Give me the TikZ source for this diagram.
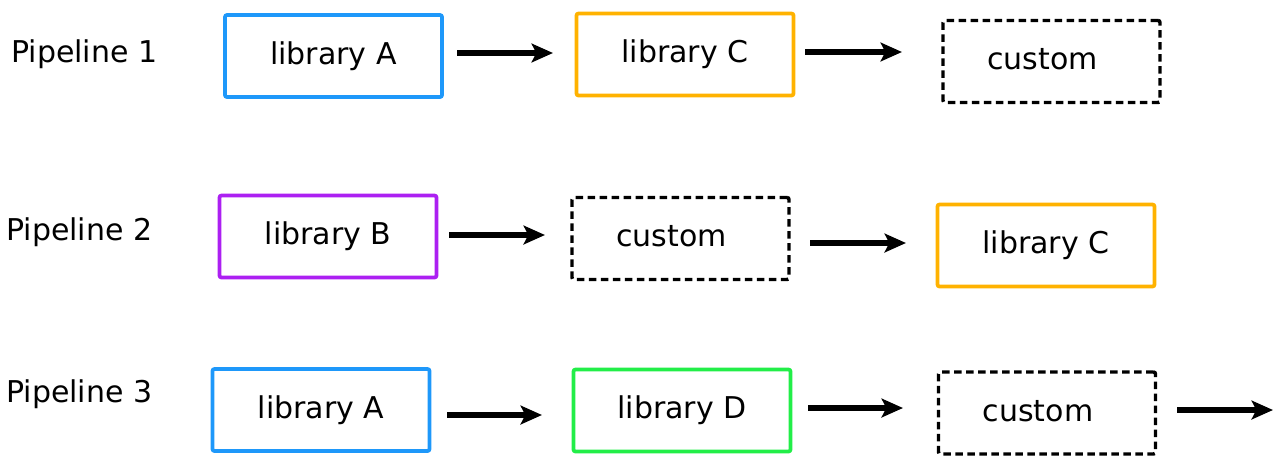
\documentclass[tikz,border=0pt]{standalone}
\usepackage{fontspec}
\setmainfont{DejaVu Sans}
\usetikzlibrary{arrows.meta}

\definecolor{libblue}{RGB}{30,152,250}
\definecolor{liborange}{RGB}{255,178,0}
\definecolor{libpurple}{RGB}{172,32,242}
\definecolor{libgreen}{RGB}{34,238,72}

\tikzset{
  box/.style={draw, line width=2.8pt, rounded corners=1.5pt, outer sep=0pt,
    minimum width=162.75pt, minimum height=61.5pt, inner sep=0pt,
    text height=16.9pt, text depth=4.9pt, font=\fontsize{22.5pt}{27pt}\selectfont},
  custombox/.style={box, draw=black, line width=2.6pt, dash pattern=on 5.6pt off 3.4pt},
  title/.style={anchor=base west, inner sep=0pt, font=\fontsize{22.5pt}{27pt}\selectfont},
  flow/.style={line width=4pt, -{Stealth[length=16pt, width=14pt, inset=3.5pt]}},
}

\begin{document}
\begin{tikzpicture}[x=0.75pt, y=-0.75pt]
  \useasboundingbox (0,0) rectangle (1282,455);

  % Pipeline 1
  \node[title] (p1) at (11,62) {Pipeline 1};
  \node[box, draw=libblue]   (a1) at (333.5,56)   {library A};
  \node[box, draw=liborange] (c1) at (685,54.5)   {library C};
  \node[custombox]           (u1) at (1051.5,61.5) {custom\hspace*{13.5pt}};
  \draw[flow] ([shift={(15,-3)}]a1.east) -- ++(96,0);
  \draw[flow] ([shift={(11.5,-2.5)}]c1.east) -- ++(97,0);

  % Pipeline 2
  \node[title] (p2) at (6,240) {Pipeline 2};
  \node[box, draw=libpurple] (b2) at (328,236.5)  {library B};
  \node[custombox]           (u2) at (680.5,238.5) {custom\hspace*{13.5pt}};
  \node[box, draw=liborange] (c2) at (1046,245.5) {library C};
  \draw[flow] ([shift={(12.5,-1.5)}]b2.east) -- ++(96,0);
  \draw[flow] ([shift={(21,4.5)}]u2.east) -- ++(96,0);

  % Pipeline 3
  \node[title] (p3) at (6,402) {Pipeline 3};
  \node[box, draw=libblue]   (a3) at (321,410)    {library A};
  \node[box, draw=libgreen]  (d3) at (682,410.5)  {library D};
  \node[custombox]           (u3) at (1047,413)   {custom\hspace*{13.5pt}};
  \coordinate (out3) at (1273,410);
  \draw[flow] ([shift={(17.5,5)}]a3.east) -- ++(95,0);
  \draw[flow] ([shift={(17.5,-2.5)}]d3.east) -- ++(95,0);
  \draw[flow] ([shift={(21.5,-3)}]u3.east) -- (out3);
\end{tikzpicture}
\end{document}
